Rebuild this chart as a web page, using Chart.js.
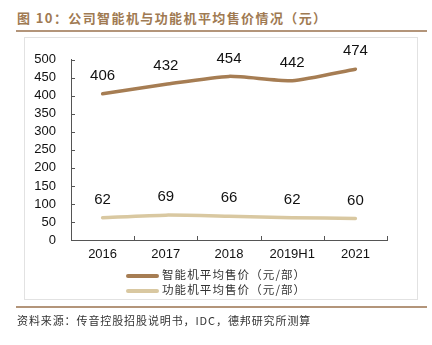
<!DOCTYPE html>
<html><head><meta charset="utf-8">
<script src="https://cdn.jsdelivr.net/npm/chart.js@4"></script>
<style>
html,body{margin:0;padding:0;background:#fff;width:432px;height:345px;overflow:hidden;}
#title{position:absolute;left:17px;top:8px;font:bold 13px "Noto Sans CJK SC",sans-serif;color:#a07a52;letter-spacing:1.4px;white-space:nowrap;}
#tline{position:absolute;left:16px;top:30px;width:411px;height:2px;background:#b3957a;}
#frame{position:absolute;left:24px;top:37px;width:394px;height:263px;border:1px solid #e2e2e2;box-sizing:border-box;}
#c{position:absolute;left:24px;top:37px;}
#bline{position:absolute;left:16px;top:306px;width:411px;height:2px;background:#b3957a;}
#src{position:absolute;left:17px;top:312px;font:11px "Noto Sans CJK SC",sans-serif;color:#333;letter-spacing:0.9px;white-space:nowrap;}
.lg{position:absolute;left:126px;font:11.5px "Noto Sans CJK SC",sans-serif;color:#333;white-space:nowrap;letter-spacing:1.1px;}
.lg i{display:inline-block;width:33px;height:4px;border-radius:2px;vertical-align:middle;margin-right:3px;}
</style></head><body>
<div id="title">图 10：公司智能机与功能机平均售价情况（元）</div>
<div id="tline"></div>
<div id="frame"></div>
<canvas id="c" width="394" height="263"></canvas>
<div class="lg" id="lg1" style="top:266px"><i></i><span></span></div>
<div class="lg" id="lg2" style="top:281px"><i></i><span></span></div>
<div id="bline"></div>
<div id="src">资料来源：传音控股招股说明书，IDC，德邦研究所测算</div>
<script>
const categories = ["2016","2017","2018","2019H1","2021"];
const smartPrice = [406,432,454,442,474];
const featurePrice = [62,69,66,62,60];
const seriesNames = ["智能机平均售价（元/部）","功能机平均售价（元/部）"];
const yTicks = [0,50,100,150,200,250,300,350,400,450,500];

const colors = ["#a67d53","#d9c8a1"];
[["lg1",0],["lg2",1]].forEach(([id,i])=>{
  const el=document.getElementById(id);
  el.querySelector("i").style.background=colors[i];
  el.querySelector("span").textContent=seriesNames[i];
});

const inwardTicks = {
  id:"inwardTicks",
  afterDraw(chart){
    const ctx=chart.ctx, x=chart.scales.x, y=chart.scales.y;
    ctx.save();
    ctx.strokeStyle="#555"; ctx.lineWidth=1;
    y.ticks.forEach((t,i)=>{
      const py=Math.round(y.getPixelForTick(i))+0.5;
      ctx.beginPath(); ctx.moveTo(x.left,py); ctx.lineTo(x.left+4,py); ctx.stroke();
    });
    for(let i=0;i<=categories.length;i++){
      const px=Math.round(x.left+(x.right-x.left)*i/categories.length)+0.5;
      ctx.beginPath(); ctx.moveTo(px,y.bottom); ctx.lineTo(px,y.bottom-4); ctx.stroke();
    }
    ctx.restore();
  }
};
const dataLabels = {
  id:"dataLabels",
  afterDatasetsDraw(chart){
    const ctx=chart.ctx;
    ctx.save();
    ctx.font='15px "Liberation Sans", Arial, sans-serif';
    ctx.fillStyle="#111"; ctx.textAlign="center"; ctx.textBaseline="middle";
    chart.data.datasets.forEach((ds,di)=>{
      chart.getDatasetMeta(di).data.forEach((pt,i)=>{
        ctx.fillText(String(ds.data[i]), pt.x, pt.y-18);
      });
    });
    ctx.restore();
  }
};

new Chart(document.getElementById("c"),{
  type:"line",
  data:{labels:categories,datasets:[
    {label:seriesNames[0],data:smartPrice,borderColor:colors[0],backgroundColor:colors[0],borderWidth:3.5,pointRadius:0,tension:0.2,borderCapStyle:"round"},
    {label:seriesNames[1],data:featurePrice,borderColor:colors[1],backgroundColor:colors[1],borderWidth:3.5,pointRadius:0,tension:0.2,borderCapStyle:"round"}
  ]},
  options:{
    responsive:false,animation:false,devicePixelRatio:1,
    layout:{padding:{top:18,right:31,left:0,bottom:0}},
    plugins:{legend:{display:false},tooltip:{enabled:false}},
    scales:{
      x:{offset:true,
        grid:{display:false,drawTicks:false},
        border:{display:true,color:"#555",width:1},
        ticks:{color:"#111",font:{family:'"Liberation Sans", Arial, sans-serif',size:13},padding:7,maxRotation:0,autoSkip:false},
        afterFit(s){s.height=60;}
      },
      y:{min:0,max:500,
        grid:{display:false,drawTicks:false},
        border:{display:true,color:"#555",width:1},
        afterBuildTicks(s){s.ticks=yTicks.map(v=>({value:v}));},
        ticks:{color:"#111",font:{family:'"Liberation Sans", Arial, sans-serif',size:13},padding:15,autoSkip:false},
        afterFit(s){s.width=47;}
      }
    }
  },
  plugins:[inwardTicks,dataLabels]
});
</script>
</body></html>
